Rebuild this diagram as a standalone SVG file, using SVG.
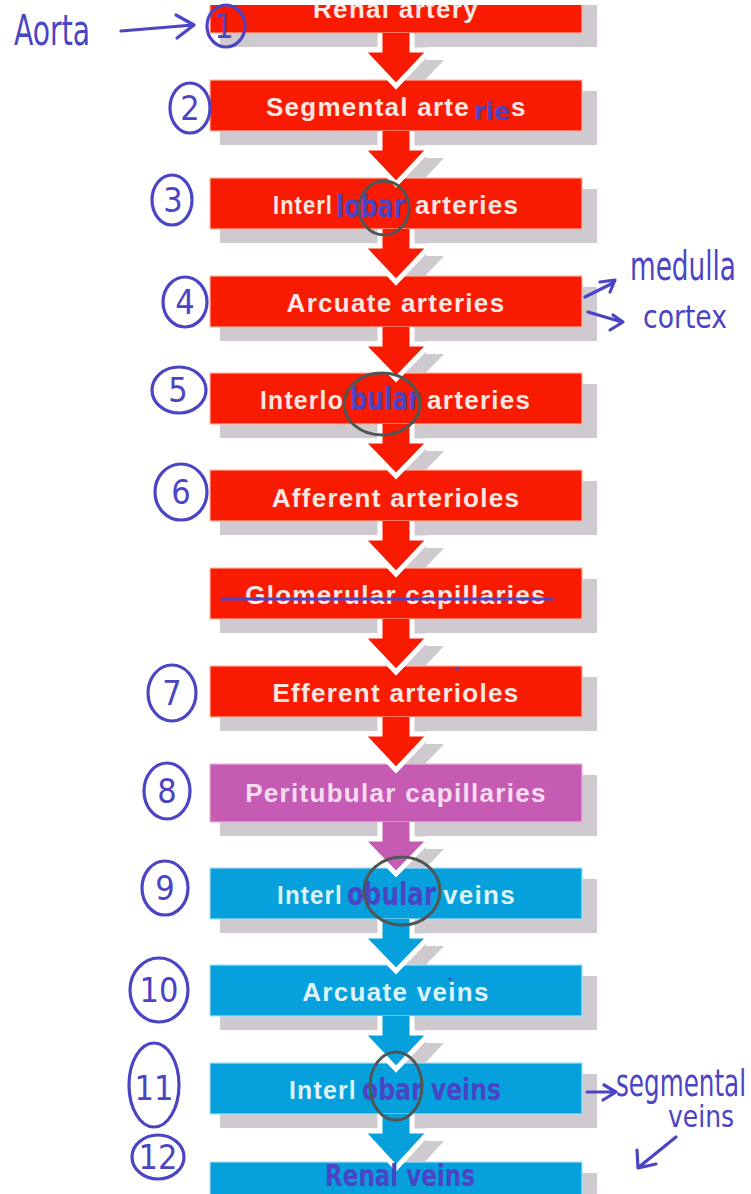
<svg xmlns="http://www.w3.org/2000/svg" width="751" height="1194" viewBox="0 0 751 1194">
<style>
.sh{fill:#cfcacf}
.red{fill:#f81b02;stroke:#ffb4a4;stroke-width:1.2}
.mag{fill:#c65bb4;stroke:#eab4e0;stroke-width:1.2}
.blu{fill:#06a0dd;stroke:#a4e0f6;stroke-width:1.2}
.lbl{font-family:"Liberation Sans",Arial,sans-serif;font-weight:bold;font-size:26px;letter-spacing:1.3px;text-anchor:middle}
.seg{font-family:"Liberation Sans",Arial,sans-serif;font-weight:bold;font-size:26px;letter-spacing:1.3px}
.tr{fill:#fde7e2}.tm{fill:#f6dcf1}.tb{fill:#def3fb}
.ar{stroke:#ffffff;stroke-width:5;stroke-linejoin:miter}
.arr{fill:#f81b02}.arm{fill:#c65bb4}.arb{fill:#06a0dd}
.hw{fill:#4b44c4;font-family:"DejaVu Sans Condensed","Liberation Sans Narrow","DejaVu Sans",sans-serif}
.hb{fill:#4b44c4;font-weight:bold;font-family:"DejaVu Sans Condensed","Liberation Sans Narrow","DejaVu Sans",sans-serif}
.hn{fill:#4b44c4;font-family:"DejaVu Sans Condensed","Liberation Sans Narrow","DejaVu Sans",sans-serif;font-size:34px;text-anchor:middle}
.hl{fill:none;stroke:#4b44c4;stroke-width:3.2;stroke-linecap:round;stroke-linejoin:round}
.gc{fill:none;stroke:#4f5655;stroke-width:3;stroke-linecap:round}
</style>
<defs>
<clipPath id="topclip"><rect x="0" y="5" width="751" height="1189"/></clipPath>
</defs>
<rect x="0" y="0" width="751" height="1194" fill="#ffffff"/>

<g id="shadows" clip-path="url(#topclip)">
<rect class="sh" x="220" y="-7" width="377" height="54"/>
<rect class="sh" x="220" y="91" width="377" height="54"/>
<rect class="sh" x="220" y="189" width="377" height="54"/>
<rect class="sh" x="220" y="287" width="377" height="54"/>
<rect class="sh" x="220" y="384" width="377" height="54"/>
<rect class="sh" x="220" y="481" width="377" height="54"/>
<rect class="sh" x="220" y="579" width="377" height="54"/>
<rect class="sh" x="220" y="677" width="377" height="54"/>
<rect class="sh" x="220" y="775" width="377" height="61"/>
<rect class="sh" x="220" y="879" width="377" height="54"/>
<rect class="sh" x="220" y="976" width="377" height="54"/>
<rect class="sh" x="220" y="1074" width="377" height="54"/>
<rect class="sh" x="220" y="1173" width="377" height="54"/>
<path class="sh" d="M394,43 L394,60 L376,60 L410,96 L444,60 L426,60 L426,43 Z"/>
<path class="sh" d="M394,141 L394,158 L376,158 L410,194 L444,158 L426,158 L426,141 Z"/>
<path class="sh" d="M394,239 L394,256 L376,256 L410,292 L444,256 L426,256 L426,239 Z"/>
<path class="sh" d="M394,337 L394,354 L376,354 L410,389 L444,354 L426,354 L426,337 Z"/>
<path class="sh" d="M394,434 L394,451 L376,451 L410,486 L444,451 L426,451 L426,434 Z"/>
<path class="sh" d="M394,531 L394,548 L376,548 L410,584 L444,548 L426,548 L426,531 Z"/>
<path class="sh" d="M394,629 L394,646 L376,646 L410,682 L444,646 L426,646 L426,629 Z"/>
<path class="sh" d="M394,727 L394,744 L376,744 L410,780 L444,744 L426,744 L426,727 Z"/>
<path class="sh" d="M394,832 L394,849 L376,849 L410,884 L444,849 L426,849 L426,832 Z"/>
<path class="sh" d="M394,929 L394,946 L376,946 L410,981 L444,946 L426,946 L426,929 Z"/>
<path class="sh" d="M394,1026 L394,1043 L376,1043 L410,1079 L444,1043 L426,1043 L426,1026 Z"/>
<path class="sh" d="M394,1124 L394,1141 L376,1141 L410,1178 L444,1141 L426,1141 L426,1124 Z"/>
</g>

<g id="node-1" clip-path="url(#topclip)">
<rect class="red" x="210" y="-18" width="372" height="51"/>
<text class="lbl tr" x="396" y="18">Renal artery</text>
</g>
<g id="node-2">
<rect class="red" x="210" y="80" width="372" height="51"/>
<text class="seg tr" x="266" y="116" textLength="204" lengthAdjust="spacing">Segmental arte</text>
<text class="seg tr" x="511" y="116">s</text>
</g>
<g id="node-3">
<rect class="red" x="210" y="178" width="372" height="51"/>
<text class="seg tr" x="273" y="214" textLength="60" lengthAdjust="spacingAndGlyphs">Interl</text>
<text class="seg tr" x="415" y="214">arteries</text>
</g>
<g id="node-4">
<rect class="red" x="210" y="276" width="372" height="51"/>
<text class="lbl tr" x="396" y="312">Arcuate arteries</text>
</g>
<g id="node-5">
<rect class="red" x="210" y="373" width="372" height="51"/>
<text class="seg tr" x="260" y="409" textLength="84" lengthAdjust="spacingAndGlyphs">Interlo</text>
<text class="seg tr" x="427" y="409">arteries</text>
</g>
<g id="node-6">
<rect class="red" x="210" y="470" width="372" height="51"/>
<text class="lbl tr" x="396" y="507">Afferent arterioles</text>
</g>
<g id="node-7">
<rect class="red" x="210" y="568" width="372" height="51"/>
<text class="lbl tr" x="396" y="604">Glomerular capillaries</text>
</g>
<g id="node-8">
<rect class="red" x="210" y="666" width="372" height="51"/>
<text class="lbl tr" x="396" y="702">Efferent arterioles</text>
</g>
<g id="node-9">
<rect class="mag" x="210" y="764" width="372" height="58"/>
<text class="lbl tm" x="396" y="802">Peritubular capillaries</text>
</g>
<g id="node-10">
<rect class="blu" x="210" y="868" width="372" height="51"/>
<text class="seg tb" x="277" y="904" textLength="66" lengthAdjust="spacingAndGlyphs">Interl</text>
<text class="seg tb" x="443" y="904">veins</text>
</g>
<g id="node-11">
<rect class="blu" x="210" y="965" width="372" height="51"/>
<text class="lbl tb" x="396" y="1001">Arcuate veins</text>
</g>
<g id="node-12">
<rect class="blu" x="210" y="1063" width="372" height="51"/>
<text class="seg tb" x="289" y="1099" textLength="68" lengthAdjust="spacingAndGlyphs">Interl</text>
</g>
<g id="node-13">
<rect class="blu" x="210" y="1162" width="372" height="51"/>
</g>

<g id="connectors">
<path class="ar arr" d="M380,33 L380,50 L362,50 L396,86 L430,50 L412,50 L412,33"/>
<path class="ar arr" d="M380,131 L380,148 L362,148 L396,184 L430,148 L412,148 L412,131"/>
<path class="ar arr" d="M380,229 L380,246 L362,246 L396,282 L430,246 L412,246 L412,229"/>
<path class="ar arr" d="M380,327 L380,344 L362,344 L396,379 L430,344 L412,344 L412,327"/>
<path class="ar arr" d="M380,424 L380,441 L362,441 L396,476 L430,441 L412,441 L412,424"/>
<path class="ar arr" d="M380,521 L380,538 L362,538 L396,574 L430,538 L412,538 L412,521"/>
<path class="ar arr" d="M380,619 L380,636 L362,636 L396,672 L430,636 L412,636 L412,619"/>
<path class="ar arr" d="M380,717 L380,734 L362,734 L396,770 L430,734 L412,734 L412,717"/>
<path class="ar arm" d="M380,822 L380,839 L362,839 L396,874 L430,839 L412,839 L412,822"/>
<path class="ar arb" d="M380,919 L380,936 L362,936 L396,971 L430,936 L412,936 L412,919"/>
<path class="ar arb" d="M380,1016 L380,1033 L362,1033 L396,1069 L430,1033 L412,1033 L412,1016"/>
<path class="ar arb" d="M380,1114 L380,1131 L362,1131 L396,1168 L430,1131 L412,1131 L412,1114"/>
</g>

<g id="annotations">
<text class="hw" x="14" y="45" font-size="42" textLength="76" lengthAdjust="spacingAndGlyphs">Aorta</text>
<path class="hl" d="M121,31 C145,29 170,27 193,25 M176,15 L194,25 L177,38"/>
<ellipse class="hl" cx="226" cy="26" rx="19" ry="21"/>
<text class="hn" x="224" y="38">1</text>
<ellipse class="hl" cx="190" cy="108" rx="20" ry="25"/>
<text class="hn" x="190" y="120">2</text>
<ellipse class="hl" cx="172" cy="200" rx="20" ry="25"/>
<text class="hn" x="173" y="212">3</text>
<ellipse class="hl" cx="185" cy="302" rx="22" ry="25"/>
<text class="hn" x="185" y="314">4</text>
<ellipse class="hl" cx="179" cy="390" rx="27" ry="23"/>
<text class="hn" x="178" y="402">5</text>
<ellipse class="hl" cx="181" cy="492" rx="26" ry="28"/>
<text class="hn" x="181" y="504">6</text>
<ellipse class="hl" cx="172" cy="693" rx="24" ry="28"/>
<text class="hn" x="172" y="705">7</text>
<ellipse class="hl" cx="167" cy="791" rx="23" ry="28"/>
<text class="hn" x="167" y="803">8</text>
<ellipse class="hl" cx="165" cy="888" rx="23" ry="27"/>
<text class="hn" x="165" y="900">9</text>
<ellipse class="hl" cx="159" cy="990" rx="29" ry="32"/>
<text class="hn" x="159" y="1002">10</text>
<ellipse class="hl" cx="154" cy="1085" rx="25" ry="42"/>
<text class="hn" x="154" y="1100" font-size="44">11</text>
<ellipse class="hl" cx="158" cy="1157" rx="26" ry="22"/>
<text class="hn" x="158" y="1169">12</text>

<text class="hb" x="474" y="120" font-size="24" textLength="36" lengthAdjust="spacingAndGlyphs">rie</text>
<text class="hb" x="336" y="217" font-size="32" textLength="69" lengthAdjust="spacingAndGlyphs">lobar</text>
<ellipse class="gc" cx="384" cy="208" rx="25" ry="27"/>
<text class="hb" x="350" y="410" font-size="32" textLength="70" lengthAdjust="spacingAndGlyphs">bular</text>
<ellipse class="gc" cx="382" cy="404" rx="38" ry="31"/>
<path class="hl" d="M222,599 L552,599"/>
<circle cx="457" cy="669" r="1.8" fill="#4b44c4"/>
<circle cx="450" cy="979" r="1.6" fill="#4b44c4"/>
<text class="hb" x="347" y="905" font-size="32" textLength="89" lengthAdjust="spacingAndGlyphs">obular</text>
<ellipse class="gc" cx="402" cy="891" rx="38" ry="34"/>
<text class="hb" x="362" y="1100" font-size="30" textLength="139" lengthAdjust="spacingAndGlyphs">obar veins</text>
<ellipse class="gc" cx="396" cy="1086" rx="26" ry="34"/>
<text class="hb" x="325" y="1186" font-size="30" textLength="150" lengthAdjust="spacingAndGlyphs">Renal veins</text>

<text class="hw" x="630" y="280" font-size="40" textLength="106" lengthAdjust="spacingAndGlyphs">medulla</text>
<path class="hl" d="M585,297 L613,283 M600,282 L615,280 L610,292"/>
<text class="hw" x="643" y="328" font-size="32" textLength="84" lengthAdjust="spacingAndGlyphs">cortex</text>
<path class="hl" d="M588,312 L622,322 M613,315 L623,322 L610,330"/>

<path class="hl" d="M587,1092 L614,1092 M604,1085 L616,1092 L603,1100"/>
<text class="hw" x="616" y="1096" font-size="38" textLength="130" lengthAdjust="spacingAndGlyphs">segmental</text>
<text class="hw" x="668" y="1127" font-size="30" textLength="66" lengthAdjust="spacingAndGlyphs">veins</text>
<path class="hl" d="M676,1137 L639,1167 M637,1150 L638,1168 L656,1164"/>
</g>
</svg>
